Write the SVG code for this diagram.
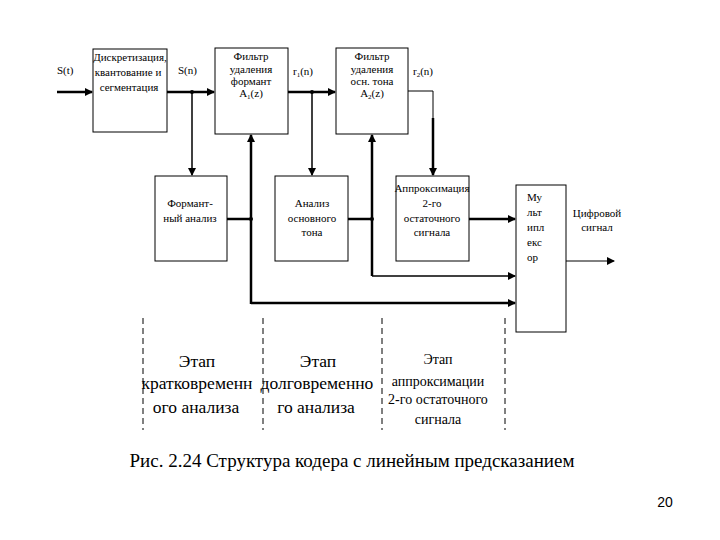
<svg xmlns="http://www.w3.org/2000/svg" width="720" height="540" viewBox="0 0 720 540" font-family="'Liberation Serif', 'Times New Roman', serif">
<defs>
<marker id="ah" markerWidth="8" markerHeight="8" refX="7" refY="4" orient="auto" markerUnits="userSpaceOnUse">
<path d="M0,0 L8,4 L0,8 z" fill="#000"/>
</marker>
<style>
text{font-family:'Liberation Serif','Times New Roman',serif;fill:#000}
.box{fill:#fff;stroke:#000;stroke-width:1}
.t{font-size:11px;text-anchor:middle}
.l{font-size:11px}
.st{font-size:17.5px;text-anchor:middle}
.st2{font-size:14px;text-anchor:middle}
.thick{stroke:#000;stroke-width:2.5;fill:none}
.mid{stroke:#000;stroke-width:1.5;fill:none}
.thin{stroke:#000;stroke-width:1;fill:none}
.dash{stroke:#000;stroke-width:1;stroke-dasharray:6,4;fill:none}
</style>
</defs>
<rect width="720" height="540" fill="#fff"/>

<g id="connectors">
<line class="thick" x1="57" y1="92" x2="92" y2="92" marker-end="url(#ah)"/>
<line class="thick" x1="167" y1="92" x2="214" y2="92" marker-end="url(#ah)"/>
<line class="thick" x1="288" y1="92" x2="335" y2="92" marker-end="url(#ah)"/>
<line class="mid" x1="192" y1="92" x2="192" y2="175" marker-end="url(#ah)"/>
<line class="mid" x1="312" y1="92" x2="312" y2="175" marker-end="url(#ah)"/>
<polyline class="thin" points="408,91 433,91 433,120"/>
<line class="thick" x1="433" y1="118" x2="433" y2="175" marker-end="url(#ah)"/>
<line class="thick" x1="227" y1="219" x2="251" y2="219"/>
<line class="thick" x1="348" y1="219" x2="372" y2="219"/>
<line class="thick" x1="251" y1="304" x2="251" y2="135" marker-end="url(#ah)"/>
<line class="thick" x1="372" y1="276" x2="372" y2="135" marker-end="url(#ah)"/>
<polyline class="thick" points="251,303 515,303" marker-end="url(#ah)"/>
<polyline class="mid" points="372,276 515,276" marker-end="url(#ah)"/>
<line class="thick" x1="469" y1="219" x2="515" y2="219" marker-end="url(#ah)"/>
<line class="thin" x1="566" y1="261" x2="614" y2="261" marker-end="url(#ah)"/>
<circle cx="192" cy="92" r="2" fill="#000"/>
<circle cx="312" cy="92" r="2" fill="#000"/>
<circle cx="251" cy="219" r="2" fill="#000"/>
<circle cx="372" cy="219" r="2" fill="#000"/>
<line class="dash" x1="143" y1="318" x2="143" y2="430"/>
<line class="dash" x1="263" y1="318" x2="263" y2="430"/>
<line class="dash" x1="382" y1="318" x2="382" y2="430"/>
<line class="dash" x1="505" y1="318" x2="505" y2="430"/>
</g>

<g id="labels">
<text class="l" x="57" y="74">S(t)</text>
<text class="l" x="178" y="74">S(n)</text>
<text class="l" x="293" y="75">r<tspan font-size="7" dy="2">1</tspan><tspan dy="-2">(n)</tspan></text>
<text class="l" x="413" y="75">r<tspan font-size="7" dy="2">2</tspan><tspan dy="-2">(n)</tspan></text>
</g>

<g id="n1">
<rect class="box" x="93" y="49" width="74" height="83"/>
<text class="t" x="130" y="61">Дискретизация,</text>
<text class="t" x="128" y="76">квантование и</text>
<text class="t" x="129" y="91">сегментация</text>
</g>

<g id="n2">
<rect class="box" x="215" y="48" width="73" height="86"/>
<text class="t" x="251" y="60">Фильтр</text>
<text class="t" x="251" y="73">удаления</text>
<text class="t" x="251" y="85">формант</text>
<text class="t" x="251" y="97">A<tspan font-size="7" dy="2">1</tspan><tspan dy="-2">(z)</tspan></text>
</g>

<g id="n3">
<rect class="box" x="336" y="48" width="72" height="86"/>
<text class="t" x="372" y="60">Фильтр</text>
<text class="t" x="372" y="73">удаления</text>
<text class="t" x="372" y="85">осн. тона</text>
<text class="t" x="372" y="97">A<tspan font-size="7" dy="2">2</tspan><tspan dy="-2">(z)</tspan></text>
</g>

<g id="n4">
<rect class="box" x="155" y="176" width="72" height="85"/>
<text class="t" x="190" y="207">Формант-</text>
<text class="t" x="190" y="222">ный анализ</text>
</g>

<g id="n5">
<rect class="box" x="275" y="176" width="73" height="85"/>
<text class="t" x="312" y="207">Анализ</text>
<text class="t" x="312" y="222">основного</text>
<text class="t" x="312" y="236">тона</text>
</g>

<g id="n6">
<rect class="box" x="396" y="176" width="73" height="85"/>
<text class="t" x="432" y="192">Аппроксимация</text>
<text class="t" x="432" y="207">2-го</text>
<text class="t" x="432" y="222">остаточного</text>
<text class="t" x="432" y="236">сигнала</text>
</g>

<g id="n7">
<rect class="box" x="516" y="185" width="50" height="147"/>
<text class="l" x="527" y="201">Му</text>
<text class="l" x="527" y="216">льт</text>
<text class="l" x="527" y="231">ипл</text>
<text class="l" x="527" y="246">екс</text>
<text class="l" x="527" y="261">ор</text>
</g>

<g id="output">
<text class="t" x="597" y="217">Цифровой</text>
<text class="t" x="597" y="231">сигнал</text>
</g>

<g id="stages">
<text class="st" x="197" y="367">Этап</text>
<text class="st" x="197" y="389">кратковременн</text>
<text class="st" x="196" y="413">ого анализа</text>
<text class="st" x="318" y="367">Этап</text>
<text class="st" x="317" y="389">долговременно</text>
<text class="st" x="316" y="413">го анализа</text>
<text class="st2" x="438" y="364">Этап</text>
<text class="st2" x="438" y="386">аппроксимации</text>
<text class="st2" x="438" y="404">2-го остаточного</text>
<text class="st2" x="438" y="424">сигнала</text>
</g>

<text x="352" y="467" font-size="19" text-anchor="middle">Рис. 2.24 Структура кодера с линейным предсказанием</text>
<text x="665" y="507" font-family="'Liberation Sans', Arial, sans-serif" font-size="14" text-anchor="middle" style="font-family:'Liberation Sans',Arial,sans-serif">20</text>
</svg>
